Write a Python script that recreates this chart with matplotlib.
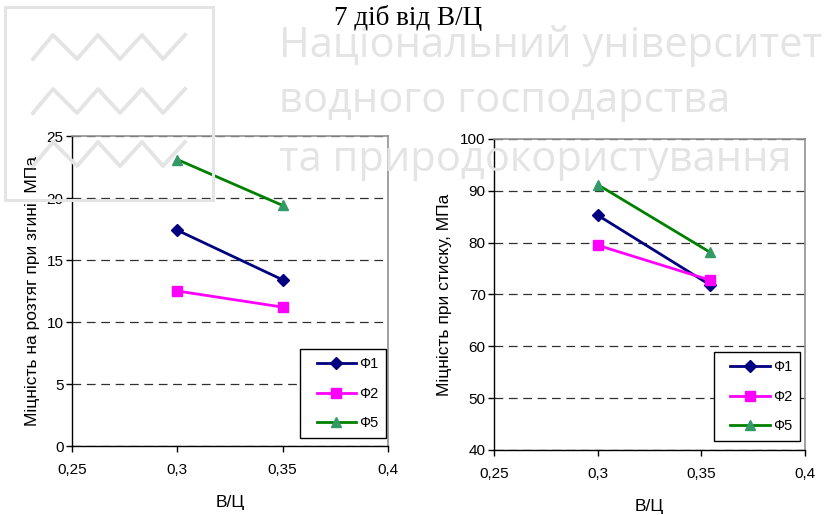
import matplotlib
matplotlib.use('Agg')
import matplotlib.pyplot as plt
from matplotlib.ticker import MultipleLocator, FuncFormatter
from matplotlib.lines import Line2D
from matplotlib.patches import Rectangle
from matplotlib.legend_handler import HandlerLine2D

# data
wc_left = [0.3, 0.35]
bend_f1 = [17.4, 13.4]
bend_f2 = [12.5, 11.2]
bend_f5 = [23.1, 19.4]

wc_right = [0.3, 0.354]
comp_f1 = [85.3, 71.9]
comp_f2 = [79.5, 72.8]
comp_f5 = [91.2, 78.2]

series_names = ['Ф1', 'Ф2', 'Ф5']
series_colors = ['#000080', '#ff00ff', '#008000']
marker_colors = ['#000080', '#ff00ff', '#339966']
series_markers = ['D', 's', '^']

plt.rcParams['font.family'] = ['Liberation Sans', 'DejaVu Sans']

fig = plt.figure(figsize=(8.35, 5.15), dpi=100)

# watermark (logo + university name), light gray behind the charts
wm = '#e4e4e4'
fig.patches.append(Rectangle((5 / 835, 1 - 200 / 515), 208 / 835, 193 / 515,
                             transform=fig.transFigure, fill=False,
                             edgecolor=wm, linewidth=2.2, zorder=0))
zx = [33, 53, 77, 98, 120, 142, 163, 185]
for base in [35, 89, 142]:
    zy = [base + 24 if i % 2 == 0 else base for i in range(len(zx))]
    fig.lines.append(Line2D([x / 835 for x in zx], [1 - y / 515 for y in zy],
                            transform=fig.transFigure, color=wm,
                            linewidth=2.8, zorder=0))
for txt, yy in [('Національний університет', 46),
                ('водного господарства', 101),
                ('та природокористування', 160)]:
    fig.text(279 / 835, 1 - yy / 515, txt, fontsize=30, color=wm,
             family=['Open Sans', 'DejaVu Sans'], va='center', ha='left', zorder=0)

fig.text(408 / 835, 1 - 25 / 515, '7 діб від В/Ц', ha='center', va='baseline',
         fontsize=19.5, family=['Liberation Serif', 'DejaVu Serif'])


def comma(x, pos):
    s = ('%.2f' % x).rstrip('0').rstrip('.')
    return s.replace('.', ',')


def style_axes(ax, ylim, ystep, ylabel, ypad):
    ax.set_facecolor('none')
    ax.set_xlim(0.25, 0.4)
    ax.set_ylim(*ylim)
    ax.xaxis.set_major_locator(MultipleLocator(0.05))
    ax.yaxis.set_major_locator(MultipleLocator(ystep))
    ax.xaxis.set_major_formatter(FuncFormatter(comma))
    ax.tick_params(direction='out', length=4, width=1, labelsize=11, pad=2)
    ax.tick_params(axis='x', pad=8)
    ax.grid(axis='y', linestyle=(0, (7, 4.5)), color='#303030', linewidth=0.9)
    ax.set_axisbelow(True)
    for s in ['top', 'right']:
        ax.spines[s].set_color('#909090')
        ax.spines[s].set_linewidth(1.2)
    for s in ['left', 'bottom']:
        ax.spines[s].set_color('black')
        ax.spines[s].set_linewidth(1.0)
    ax.set_xlabel('В/Ц', fontsize=12.5, labelpad=13)
    ax.set_ylabel(ylabel, fontsize=12.5, labelpad=ypad)


ax1 = fig.add_axes([72 / 835, 1 - 446 / 515, 316 / 835, 310 / 515])
for ys, name, c, mc, m in zip([bend_f1, bend_f2, bend_f5], series_names,
                              series_colors, marker_colors, series_markers):
    ax1.plot(wc_left, ys, color=c, linewidth=2, marker=m, markersize=7 if m != 'D' else 6,
             markerfacecolor=mc, markeredgecolor=mc, label=name)
style_axes(ax1, (0, 25), 5, 'Міцність на розтяг при згині, МПа', 5)

ax2 = fig.add_axes([494 / 835, 1 - 450 / 515, 311 / 835, 311 / 515])
for ys, name, c, mc, m in zip([comp_f1, comp_f2, comp_f5], series_names,
                              series_colors, marker_colors, series_markers):
    ax2.plot(wc_right, ys, color=c, linewidth=2, marker=m, markersize=7 if m != 'D' else 6,
             markerfacecolor=mc, markeredgecolor=mc, label=name)
style_axes(ax2, (40, 100), 10, 'Міцність при стиску, МПа', 6)

# legend: extra blank space left of the sample line, like Excel
for ax, anchor in [(ax1, (0.994, 0.026)), (ax2, (0.984, 0.029))]:
    leg = ax.legend(loc='lower right', bbox_to_anchor=anchor, fontsize=10.5,
                    handlelength=3.25, labelspacing=1.05, handletextpad=0.2,
                    borderpad=0.55, fancybox=False, framealpha=1,
                    edgecolor='black', borderaxespad=0,
                    handler_map={Line2D: HandlerLine2D(xpad=0.55)})
    leg.get_frame().set_linewidth(1.0)

fig.savefig('out.png', dpi=100)
